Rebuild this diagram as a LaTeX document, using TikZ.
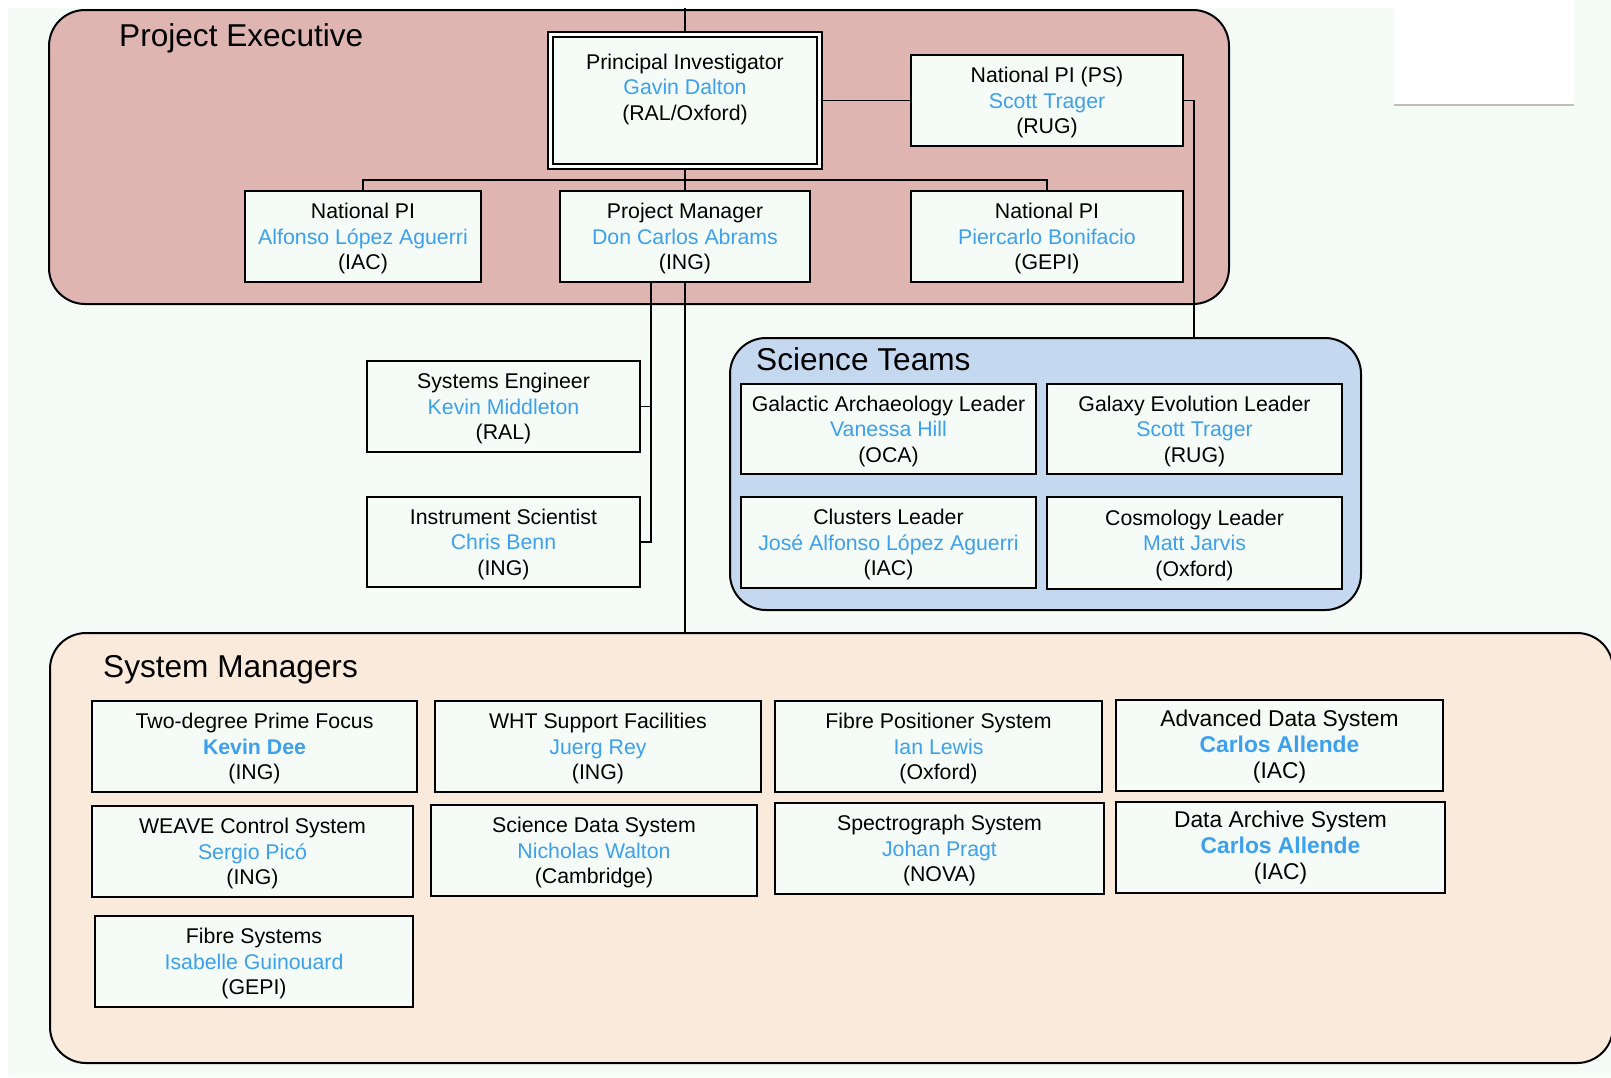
\documentclass[tikz,border=0pt]{standalone}
\usepackage{fontspec}
\setmainfont{Liberation Sans}
\definecolor{mint}{RGB}{245,252,248}
\definecolor{pefill}{RGB}{222,181,177}
\definecolor{stfill}{RGB}{196,216,240}
\definecolor{smfill}{RGB}{250,234,220}
\definecolor{nameblue}{RGB}{60,160,238}
\definecolor{rulegray}{RGB}{190,190,190}
\newcommand\bxf{\fontsize{21.3}{25.5}\selectfont}
\newcommand\bxg{\fontsize{22.8}{26}\selectfont}
\newcommand\ttlf{\fontsize{31.6}{38}\selectfont}
\newcommand\nm[1]{\textcolor{nameblue}{#1}}
\newcommand\nmb[1]{\textcolor{nameblue}{\bfseries #1}}
\newcommand\firstl{\rule{0pt}{19.6pt}}
\pgfdeclarelayer{bg}
\pgfdeclarelayer{links}
\pgfsetlayers{bg,links,main}
\begin{document}
\begin{tikzpicture}[x=1pt,y=-1pt,
  orgbox/.style={draw=black, line width=1.8pt, fill=mint, align=center, inner sep=0pt, font=\bxf, minimum height=91pt},
  group/.style={draw=black, line width=2pt, rounded corners=36pt, inner sep=0pt},
  link/.style={draw=black, line width=1.6pt},
  grouptitle/.style={anchor=base west, font=\ttlf, inner sep=0pt}]
\useasboundingbox (0,0) rectangle (1611,1077);
\begin{pgfonlayer}{bg}
  \fill[white] (0,0) rectangle (1611,1077);
  \fill[mint] (8,8) rectangle (1611,1077);
  \fill[mint] (1574,0) rectangle (1611,8);
  \fill[white] (1394,0) rectangle (1574,105);
  \draw[rulegray, line width=1.5pt] (1394,105) -- (1574,105);
  % containers
  \node[group, fill=pefill, minimum width=1180pt, minimum height=294pt] (pe) at (639,157) {};
  \node[group, fill=stfill, minimum width=631pt, minimum height=272pt] (st) at (1045.5,474) {};
  \node[group, fill=smfill, minimum width=1563pt, minimum height=430pt] (sm) at (831.5,848) {};
\end{pgfonlayer}

\node[grouptitle] (pet) at (119,46.7) {Project Executive};
\node[grouptitle] (stt) at (756,370) {Science Teams};
\node[grouptitle] (smt) at (103,677) {System Managers};

% Project executive
\node[draw=black, line width=1.5pt, double=white, double distance=3.5pt, fill=mint,
      minimum width=269pt, minimum height=132pt, inner sep=0pt] (pi) at (685,100.5) {};
\node[font=\bxf, align=center, inner sep=0pt] (pitxt) at (685,89) {Principal Investigator\\\nm{Gavin Dalton}\\(RAL/Oxford)};
\node[orgbox, minimum width=272pt] (nps) at (1047,100.5) {\firstl National PI (PS)\\\nm{Scott Trager}\\(RUG)};
\node[orgbox, minimum width=236pt] (npiac) at (363,236.5) {\firstl National PI\\\nm{Alfonso López Aguerri}\\(IAC)};
\node[orgbox, minimum width=250pt] (pm) at (685,236.5) {\firstl Project Manager\\\nm{Don Carlos Abrams}\\(ING)};
\node[orgbox, minimum width=272pt] (npgepi) at (1047,236.5) {\firstl National PI\\\nm{Piercarlo Bonifacio}\\(GEPI)};

% staff
\node[orgbox, minimum width=273pt] (se) at (503.5,406.5) {\firstl Systems Engineer\\\nm{Kevin Middleton}\\(RAL)};
\node[orgbox, minimum width=273pt, minimum height=90pt] (is) at (503.5,542) {\firstl Instrument Scientist\\\nm{Chris Benn}\\(ING)};

% science teams
\node[orgbox, minimum width=295pt, minimum height=90pt] (ga) at (888.5,429) {\firstl Galactic Archaeology Leader\\\nm{Vanessa Hill}\\(OCA)};
\node[orgbox, minimum width=295pt, minimum height=90pt] (ge) at (1194.5,429) {\firstl Galaxy Evolution Leader\\\nm{Scott Trager}\\(RUG)};
\node[orgbox, minimum width=295pt] (cl) at (888.5,542.5) {\firstl Clusters Leader\\\nm{José Alfonso López Aguerri}\\(IAC)};
\node[orgbox, minimum width=295pt, minimum height=92pt] (co) at (1194.5,543) {\firstl Cosmology Leader\\\nm{Matt Jarvis}\\(Oxford)};

% system managers
\node[orgbox, minimum width=325pt] (tdpf) at (254.5,746.5) {\firstl Two-degree Prime Focus\\\nmb{Kevin Dee}\\(ING)};
\node[orgbox, minimum width=326pt] (wht) at (598,746.5) {\firstl WHT Support Facilities\\\nm{Juerg Rey}\\(ING)};
\node[orgbox, minimum width=327pt] (fps) at (938.5,746.5) {\firstl Fibre Positioner System\\\nm{Ian Lewis}\\(Oxford)};
\node[orgbox, minimum width=327pt, font=\bxg] (ads) at (1279.5,745.5) {\firstl Advanced Data System\\\nmb{Carlos Allende}\\(IAC)};
\node[orgbox, minimum width=321pt] (wcs) at (252.5,851.5) {\firstl WEAVE Control System\\\nm{Sergio Picó}\\(ING)};
\node[orgbox, minimum width=326pt] (sds) at (594,850.5) {\firstl Science Data System\\\nm{Nicholas Walton}\\(Cambridge)};
\node[orgbox, minimum width=329pt] (sps) at (939.5,848.5) {\firstl Spectrograph System\\\nm{Johan Pragt}\\(NOVA)};
\node[orgbox, minimum width=329pt, font=\bxg] (das) at (1280.5,847.5) {Data Archive System\\\nmb{Carlos Allende}\\(IAC)};
\node[orgbox, minimum width=318pt] (fs) at (254,961.5) {\firstl Fibre Systems\\\nm{Isabelle Guinouard}\\(GEPI)};

% connectors
\coordinate (topin) at (685,8);
\coordinate (bar) at (685,180);
\coordinate (stin) at (1194,338);
\coordinate (pmL) at (651,282);
\begin{pgfonlayer}{links}
  \draw[link] (topin) -- (pi.north);
  \draw[link] (pi.east) -- (nps.west);
  \draw[link] (pi.south) -- (pm.north);
  \draw[link] (npiac.north) |- (bar) -| (npgepi.north);
  \draw[link] (nps.east) -| (stin);
  \draw[link] (pmL) |- (is.east);
  \draw[link] (se.east) -| (pmL);
  \draw[link] (pm.south) -- (pm.south |- sm.north);
\end{pgfonlayer}
\end{tikzpicture}
\end{document}
